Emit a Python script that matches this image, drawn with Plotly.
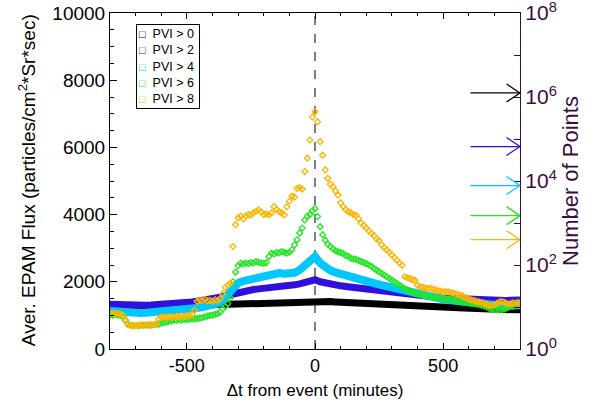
import numpy as np
import plotly.graph_objects as go

# time grids (minutes from event)
t_fine = list(range(-800, 801, 10))
t_coarse = list(range(-800, 801, 20))

flux_pvi0 = [1230, 1230, 1235, 1240, 1245, 1250, 1255, 1260, 1265, 1270,
             1275, 1280, 1285, 1290, 1300, 1305, 1310, 1320, 1325, 1330,
             1340, 1345, 1350, 1355, 1360, 1370, 1375, 1380, 1385, 1390,
             1395, 1400, 1400, 1405, 1410, 1410, 1415, 1420, 1420, 1425,
             1430, 1420, 1415, 1410, 1400, 1395, 1390, 1385, 1380, 1370,
             1365, 1360, 1350, 1345, 1340, 1330, 1325, 1320, 1310, 1300,
             1295, 1290, 1280, 1275, 1265, 1260, 1250, 1240, 1230, 1220,
             1210, 1200, 1195, 1190, 1180, 1175, 1170, 1170, 1165, 1165,
             1165]

flux_pvi2 = [1330, 1320, 1315, 1310, 1305, 1305, 1300, 1305, 1310, 1315,
             1320, 1330, 1340, 1350, 1365, 1380, 1400, 1420, 1440, 1460,
             1490, 1520, 1560, 1600, 1640, 1690, 1720, 1750, 1770, 1790,
             1800, 1820, 1840, 1850, 1870, 1890, 1910, 1940, 1980, 2020,
             2060, 2000, 1960, 1930, 1900, 1880, 1860, 1840, 1820, 1800,
             1780, 1760, 1740, 1720, 1700, 1680, 1660, 1640, 1620, 1600,
             1580, 1570, 1560, 1550, 1530, 1520, 1510, 1500, 1490, 1490,
             1480, 1470, 1470, 1460, 1460, 1450, 1450, 1440, 1450, 1460,
             1460]

flux_pvi4 = [1130, 1110, 1090, 1070, 1060, 1060, 1070, 1080, 1090, 1100,
             1110, 1120, 1130, 1140, 1160, 1180, 1200, 1220, 1250, 1270,
             1290, 1350, 1460, 1620, 1850, 1960, 2020, 2060, 2100, 2150,
             2200, 2230, 2250, 2260, 2240, 2250, 2270, 2350, 2480, 2620,
             2750, 2560, 2420, 2340, 2280, 2230, 2180, 2140, 2100, 2060,
             2020, 1980, 1940, 1900, 1860, 1820, 1780, 1740, 1700, 1660,
             1620, 1580, 1550, 1520, 1500, 1480, 1460, 1440, 1420, 1410,
             1400, 1380, 1360, 1340, 1320, 1300, 1290, 1280, 1290, 1300,
             1300]

flux_pvi6 = [1010, 1000, 1020, 1010, 1000, 960, 850, 740, 710, 700,
             700, 690, 710, 700, 720, 700, 710, 720, 730, 740,
             760, 790, 800, 820, 840, 860, 850, 870, 860, 880,
             870, 880, 900, 890, 910, 920, 930, 960, 980, 1000,
             1010, 1030, 1050, 1100, 1200, 1260, 1350, 1520, 2000, 2290,
             2480, 2550, 2530, 2560, 2540, 2570, 2560, 2600, 2580, 2560,
             2550, 2570, 2750, 2850, 2830, 2870, 2860, 2900, 2880, 2850,
             2880, 2950, 3100, 3250, 3450, 3600, 3840, 3950, 4000, 4120,
             4180, 3940, 3640, 3400, 3240, 3120, 3050, 2980, 2930, 2890,
             2870, 2840, 2780, 2760, 2700, 2680, 2670, 2640, 2600, 2580,
             2540, 2500, 2460, 2400, 2350, 2300, 2250, 2200, 2150, 2100,
             2050, 2000, 1950, 1900, 1850, 1800, 1760, 1720, 1690, 1660,
             1650, 1630, 1600, 1590, 1570, 1560, 1540, 1530, 1520, 1510,
             1500, 1490, 1480, 1470, 1450, 1440, 1420, 1410, 1390, 1380,
             1370, 1360, 1350, 1340, 1320, 1300, 1280, 1250, 1210, 1180,
             1160, 1160, 1170, 1170, 1190, 1220, 1260, 1280, 1300, 1310,
             1310]

flux_pvi8 = [1060, 1070, 1050, 1060, 1040, 1000, 880, 720, 700, 690,
             700, 710, 700, 720, 710, 720, 730, 720, 740, 900,
             940, 950, 940, 960, 950, 960, 970, 960, 980, 970,
             990, 1000, 1020, 1150, 1420, 1450, 1440, 1480, 1430, 1450,
             1420, 1460, 1440, 1500, 1640, 1830, 1900, 1960, 3050, 3700,
             3900, 3950, 3870, 3960, 4000, 3990, 4050, 4100, 4140, 4080,
             4000, 4020, 3990, 4050, 4240, 4150, 4090, 4050, 3990, 4230,
             4400, 4550, 4520, 4780, 4800, 4760, 5280, 5680, 6220, 6900,
             7060, 6760, 6170, 5770, 5330, 5080, 4900, 4830, 4700, 4580,
             4350, 4240, 4150, 4090, 4050, 4000, 3980, 3880, 3750, 3680,
             3600, 3520, 3440, 3380, 3280, 3230, 3100, 3020, 2950, 2880,
             2800, 2720, 2640, 2560, 2490, 2150, 2120, 2100, 2060, 2050,
             1900, 1850, 1840, 1820, 1800, 1810, 1780, 1760, 1740, 1720,
             1700, 1710, 1700, 1680, 1660, 1640, 1620, 1600, 1560, 1520,
             1480, 1460, 1450, 1420, 1400, 1380, 1360, 1330, 1300, 1290,
             1320, 1360, 1400, 1410, 1380, 1350, 1340, 1370, 1360, 1380,
             1370]

labels = ["PVI > 0", "PVI > 2", "PVI > 4", "PVI > 6", "PVI > 8"]
colors = ["#000000", "#3010dc", "#00c8ff", "#22e622", "#ffb400"]
n_points = [1.25e6, 6.6e4, 7.8e3, 1.5e3, 4.0e2]

x_ticks = [-500, 0, 500]
x_ticktext = ["-500", "0", "500"]

purple = "#3c0c40"
font = "Liberation Sans, Arial, sans-serif"

fig = go.Figure()

# dense series drawn as thick bands
for t, y, c, w, lab in [(t_coarse, flux_pvi0, colors[0], 7, labels[0]),
                        (t_coarse, flux_pvi2, colors[1], 7, labels[1]),
                        (t_coarse, flux_pvi4, colors[2], 8, labels[2])]:
    fig.add_trace(go.Scatter(x=t, y=y, mode="lines", line=dict(color=c, width=w),
                             name=lab, showlegend=False))

for y, c, lab in [(flux_pvi6, colors[3], labels[3]), (flux_pvi8, colors[4], labels[4])]:
    fig.add_trace(go.Scatter(x=t_fine, y=y, mode="markers", name=lab,
                             marker=dict(symbol="diamond-open", size=4.5, color=c,
                                         line=dict(width=1.3, color=c)),
                             showlegend=False))

# number of points on the right (log) axis
fig.add_trace(go.Scatter(x=[800] * len(n_points), y=n_points, yaxis="y2",
                         mode="markers", marker=dict(opacity=0),
                         showlegend=False, hoverinfo="skip"))

# open arrows: shaft plus two barbs, all ending on the right axis
for n, c in zip(n_points, colors):
    for ax, ay in [(-51, 0), (-15, -10), (-15, 10)]:
        fig.add_annotation(x=800, y=np.log10(n), xref="x", yref="y2",
                           ax=ax, ay=ay, text="", showarrow=True,
                           arrowhead=0, arrowwidth=1.3, arrowcolor=c, standoff=0)

# compact legend box
legend_text = "<br>".join(
    "<span style='color:%s;font-size:11px'><b>\u25a1</b></span>  %s " % (c, lab)
    for lab, c in zip(labels, colors))
fig.add_annotation(x=0.063, y=0.967, xref="paper", yref="paper",
                   xanchor="left", yanchor="top", align="left",
                   text=legend_text, showarrow=False,
                   font=dict(size=12.5, color="black"),
                   bgcolor="white", bordercolor="black", borderwidth=1, borderpad=2)

# left axis title
fig.add_annotation(x=-0.202, y=0.503, xref="paper", yref="paper",
                   xanchor="center", yanchor="middle",
                   text="Aver. EPAM Flux (particles/cm<sup>2</sup>*Sr*sec)",
                   textangle=-90, showarrow=False, font=dict(size=19, color="black"))

fig.add_shape(type="line", x0=0, x1=0, xref="x", y0=0, y1=1, yref="paper",
              line=dict(color="#555555", width=1.5, dash="dash"), layer="below")

decades = list(range(0, 9))
fig.update_layout(
    width=596, height=407,
    margin=dict(l=110, r=76, t=13, b=58, autoexpand=False),
    plot_bgcolor="white", paper_bgcolor="white",
    font=dict(family=font, size=19, color="black"),
    showlegend=False,
    xaxis=dict(range=[-800, 800], tickvals=x_ticks, ticktext=x_ticktext,
               ticks="inside", ticklen=6, tickcolor="black", automargin=False,
               tickfont=dict(size=18),
               showline=True, linecolor="black", linewidth=1, mirror="ticks",
               showgrid=False, zeroline=False,
               minor=dict(dtick=100, ticks="inside", ticklen=3, tickcolor="black"),
               title=dict(text="\u0394t from event (minutes)", font=dict(size=17), standoff=9)),
    yaxis=dict(range=[0, 10000], dtick=2000, tickformat="d",
               ticks="inside", ticklen=7, tickcolor="black", automargin=False,
               showline=True, linecolor="black", linewidth=1,
               showgrid=False, zeroline=False,
               minor=dict(dtick=500, ticks="inside", ticklen=4, tickcolor="black")),
    yaxis2=dict(overlaying="y", side="right", type="log", range=[0, 8],
                tickvals=[10 ** d for d in decades],
                ticktext=[("10<sup>%d</sup>" % d) if d % 2 == 0 else "" for d in decades],
                ticks="inside", ticklen=6, tickcolor=purple, automargin=False,
                ticklabeloverflow="allow",
                tickfont=dict(size=21, color=purple),
                showline=True, linecolor=purple, linewidth=1.2,
                showgrid=False, zeroline=False,
                title=dict(text="Number of Points", font=dict(size=22, color=purple), standoff=6)),
)

fig.write_html("out.html", config={"displayModeBar": False},
               post_script="document.body.style.margin='0px';")
